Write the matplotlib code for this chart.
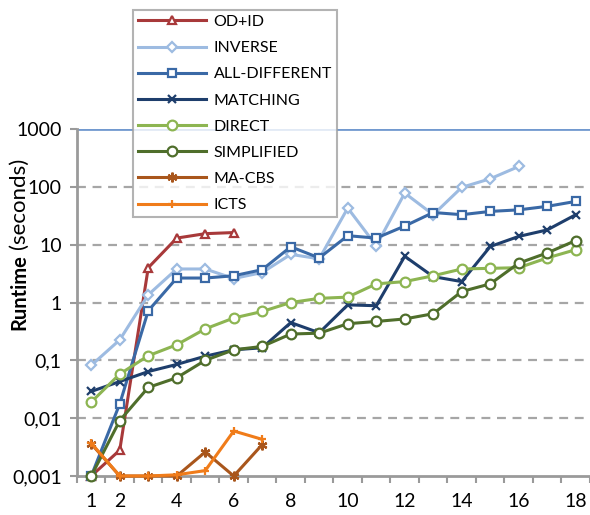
import matplotlib
matplotlib.use("Agg")
import matplotlib.pyplot as plt
from matplotlib.ticker import FixedLocator, FuncFormatter

plt.rcParams['font.family'] = ['Lato', 'DejaVu Sans']

# runtimes (seconds) per instance size
sizes = list(range(1, 19))
od_id = [0.001, 0.0028, 4.0, 13.0, 15.5, 16.2]
inverse = [0.082, 0.226, 1.36, 3.8, 3.8, 2.6, 3.3, 6.8, 5.7, 43, 9.6, 78, 33, 98, 138, 225]
all_different = [0.001, 0.0177, 0.72, 2.65, 2.65, 2.9, 3.7, 9.2, 5.9, 14.3, 13, 21, 36, 33, 37.6, 40, 46, 56]
matching = [0.029, 0.043, 0.064, 0.085, 0.118, 0.152, 0.165, 0.45, 0.30, 0.91, 0.88, 6.3, 2.8, 2.3, 9.3, 13.9, 18, 33]
direct = [0.019, 0.058, 0.12, 0.186, 0.35, 0.54, 0.70, 1.0, 1.18, 1.24, 2.1, 2.3, 2.9, 3.8, 3.9, 4.0, 5.9, 8.2]
simplified = [0.001, 0.0091, 0.034, 0.050, 0.100, 0.152, 0.174, 0.285, 0.295, 0.43, 0.47, 0.52, 0.64, 1.55, 2.1, 4.8, 7.2, 11.8]
ma_cbs = [0.0036, 0.001, 0.001, 0.001, 0.0026, 0.001, 0.0035]
icts = [0.0037, 0.001, 0.001, 0.00105, 0.00124, 0.006, 0.0043]
timeout = 1000

series = [
    ("OD+ID", od_id, "#a8393a", "^"),
    ("INVERSE", inverse, "#9dbbe1", "D"),
    ("ALL-DIFFERENT", all_different, "#3a69a6", "s"),
    ("MATCHING", matching, "#1e3e6c", "x"),
    ("DIRECT", direct, "#8db552", "o"),
    ("SIMPLIFIED", simplified, "#4f6e2b", "o"),
    ("MA-CBS", ma_cbs, "#a9561c", (6, 2, 0)),
    ("ICTS", icts, "#f07c1a", "+"),
]

fig = plt.figure(figsize=(5.9, 5.15), dpi=100)
ax = fig.add_axes([0.1305, 0.0757, 0.8695, 0.6738])

grey = "#9a9a9a"
for v in [0.01, 0.1, 1, 10, 100]:
    ax.axhline(v, color="#a6a6a6", lw=1.6, ls=(0, (4, 3)), zorder=1)
ax.axhline(timeout, color="#7299cf", lw=2.0, zorder=1)

handles = []
for name, vals, color, marker in series:
    hollow = marker in ("^", "D", "s", "o")
    ms = {"o": 7, "D": 5.5}.get(marker, 6) if isinstance(marker, str) else 7
    ln, = ax.plot(sizes[:len(vals)], vals, color=color, lw=2.2, marker=marker,
                  ms=ms, mfc='white' if hollow else color,
                  mec=color, mew=1.6, clip_on=False, zorder=3, label=name)
    handles.append(ln)

ax.set_yscale('log')
ax.set_ylim(0.001, 1000)
ax.set_xlim(0.5, 18.5)

ax.yaxis.set_major_locator(FixedLocator([0.001, 0.01, 0.1, 1, 10, 100, 1000]))
ax.yaxis.set_minor_locator(FixedLocator([]))
ax.yaxis.set_major_formatter(FuncFormatter(lambda v, p: ('%g' % v).replace('.', ',')))

ax.xaxis.set_major_locator(FixedLocator([1, 2, 4, 6, 8, 10, 12, 14, 16, 18]))
ax.xaxis.set_minor_locator(FixedLocator([i + 0.5 for i in range(0, 19)]))
ax.tick_params(axis='x', which='major', length=0, pad=12, labelsize=14)
ax.tick_params(axis='x', which='minor', length=5, width=1.5, color=grey)
ax.tick_params(axis='y', which='major', length=5, width=1.5, color=grey, labelsize=14, pad=6)

for s in ['top', 'right']:
    ax.spines[s].set_visible(False)
for s in ['left', 'bottom']:
    ax.spines[s].set_color(grey)
    ax.spines[s].set_linewidth(2)

# y label: bold word followed by regular unit text
t1 = fig.text(0.032, 1 - 330 / 515, "Runtime", rotation=90, fontsize=14.5,
              fontweight='bold', ha='left', va='center', rotation_mode='anchor')
fig.canvas.draw()
bb = t1.get_window_extent()
fig.text(0.032, (bb.y1 + 5) / fig.bbox.height, "(seconds)", rotation=90, fontsize=16,
         ha='left', va='center', rotation_mode='anchor')

leg = fig.legend(handles=handles, loc='lower left', bbox_to_anchor=(0.2254, 1 - 217 / 515),
                 fontsize=11.5, frameon=True, fancybox=False, handlelength=4.3,
                 labelspacing=0.75, borderpad=0.3, handletextpad=0.45, borderaxespad=0)
leg.get_frame().set_edgecolor("#a0a0a0")
leg.get_frame().set_linewidth(1.5)

fig.savefig("out.png", dpi=100)
